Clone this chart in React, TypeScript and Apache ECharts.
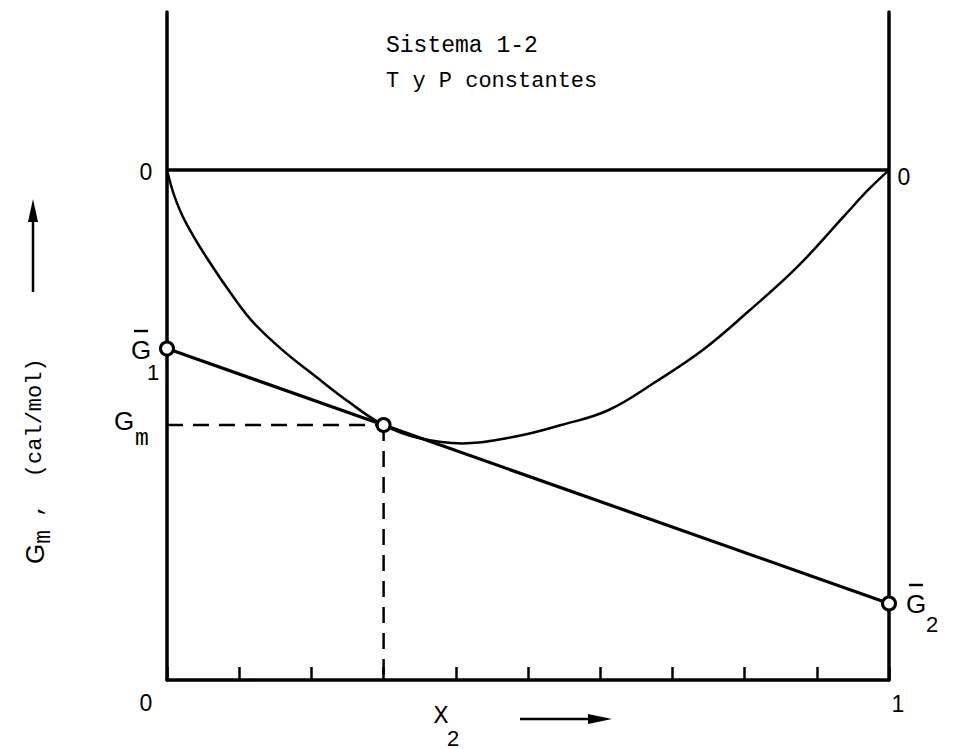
import { useEffect, useRef } from "react";
import * as echarts from "echarts";

// Molar Gibbs energy of mixing curve, G_m vs x2 (arbitrary units, 0 at pure components)
const x2Curve = [0, 0.01, 0.025, 0.055, 0.095, 0.121, 0.16, 0.206, 0.252, 0.3, 0.35, 0.409, 0.481, 0.546, 0.611, 0.677, 0.742, 0.807, 0.873, 0.938, 0.971, 1];
const gmCurve = [0, -0.05, -0.1, -0.172, -0.255, -0.301, -0.353, -0.405, -0.455, -0.5, -0.526, -0.536, -0.523, -0.5, -0.471, -0.415, -0.353, -0.275, -0.19, -0.09, -0.039, 0];

// Tangent at the chosen composition: intercepts give the partial molar quantities
const tangentX = [0, 1];
const tangentG = [-0.35, -0.85];

// Marked points: G1 bar, G_m at x2, G2 bar
const pointX = [0, 0.3, 1];
const pointG = [-0.35, -0.5, -0.85];

const xMin = 0;
const xMax = 1;
const xStep = 0.1;
const yMin = -1;
const yMax = 0.31;

const MONO = "'Liberation Mono', 'DejaVu Sans Mono', monospace";
const SANS = "'Liberation Sans', Arial, sans-serif";

export default function App() {
  const ref = useRef<HTMLDivElement>(null);

  useEffect(() => {
    if (!ref.current) return;
    const chart = echarts.init(ref.current, null, { renderer: "svg" });
    const black = "#000";

    const axisLine = { show: true, onZero: false, lineStyle: { color: black, width: 3.5 } };

    const curveData = x2Curve.map((x, i) => [x, gmCurve[i]]);
    const tangentData = tangentX.map((x, i) => [x, tangentG[i]]);
    const pointData = pointX.map((x, i) => [x, pointG[i]]);
    const gmX = pointX[1];
    const gmY = pointG[1];

    const txt = (x: number, y: number, text: string, size: number, family: string, align = "center") => ({
      type: "text",
      x,
      y,
      silent: true,
      style: {
        text,
        fill: black,
        fontSize: size,
        fontFamily: family,
        align,
        verticalAlign: "middle",
      },
    });

    const bar = (x1: number, x2: number, y: number) => ({
      type: "line",
      silent: true,
      shape: { x1, y1: y, x2, y2: y },
      style: { stroke: black, lineWidth: 2.4 },
    });

    const option: any = {
      animation: false,
      backgroundColor: "#fff",
      grid: { left: 167, right: 76, top: 12, bottom: 69 },
      xAxis: {
        type: "value",
        min: xMin,
        max: xMax,
        interval: xStep,
        axisLine,
        axisTick: { show: true, inside: true, length: 13, lineStyle: { color: black, width: 2.5 } },
        axisLabel: { show: false },
        splitLine: { show: false },
      },
      yAxis: [
        {
          type: "value",
          min: yMin,
          max: yMax,
          position: "left",
          axisLine,
          axisTick: { show: false },
          axisLabel: { show: false },
          splitLine: { show: false },
        },
        {
          type: "value",
          min: yMin,
          max: yMax,
          position: "right",
          axisLine,
          axisTick: { show: false },
          axisLabel: { show: false },
          splitLine: { show: false },
        },
      ],
      series: [
        {
          name: "cero",
          type: "line",
          data: [[xMin, 0], [xMax, 0]],
          symbol: "none",
          lineStyle: { color: black, width: 3.5 },
          z: 2,
        },
        {
          name: "Gm",
          type: "line",
          data: curveData,
          smooth: 0.4,
          symbol: "none",
          lineStyle: { color: black, width: 2.5 },
          z: 3,
        },
        {
          name: "tangente",
          type: "line",
          data: tangentData,
          symbol: "none",
          lineStyle: { color: black, width: 3.2 },
          z: 3,
        },
        {
          name: "guia-h",
          type: "line",
          data: [[xMin, gmY], [gmX, gmY]],
          symbol: "none",
          lineStyle: { color: black, width: 2.5, type: [16, 10] },
          z: 2,
        },
        {
          name: "guia-v",
          type: "line",
          data: [[gmX, gmY], [gmX, yMin]],
          symbol: "none",
          lineStyle: { color: black, width: 2.5, type: [16, 10] },
          z: 2,
        },
        {
          name: "puntos",
          type: "scatter",
          data: pointData,
          symbol: "circle",
          symbolSize: 13,
          itemStyle: { color: "#fff", borderColor: black, borderWidth: 3, opacity: 1 },
          z: 5,
        },
      ],
      graphic: [
        // title block
        txt(386, 46, "Sistema 1-2", 23, MONO, "left"),
        txt(386, 81, "T y P constantes", 22, MONO, "left"),
        // zero labels on both ordinate axes
        txt(146, 172, "0", 23, SANS),
        txt(904, 177, "0", 23, SANS),
        // x2 end labels
        txt(146, 703, "0", 23, SANS),
        txt(898, 704, "1", 23, SANS),
        // G1 bar
        txt(141, 350, "G", 26, SANS),
        bar(134, 148, 331),
        txt(153, 372, "1", 22, SANS),
        // G_m
        txt(124, 421, "G", 26, SANS),
        txt(142, 439, "m", 23, MONO),
        // G2 bar
        txt(916, 604, "G", 26, SANS),
        bar(909, 923, 585),
        txt(932, 624, "2", 22, SANS),
        // x2 axis title with arrow
        txt(441, 716, "X", 25, MONO),
        txt(453, 738, "2", 22, SANS),
        { type: "line", silent: true, shape: { x1: 520, y1: 719, x2: 596, y2: 719 }, style: { stroke: black, lineWidth: 2.5 } },
        { type: "polygon", silent: true, shape: { points: [[588, 714], [612, 719], [588, 724]] }, style: { fill: black } },
        // ordinate title, rotated, with arrow
        {
          type: "text",
          x: 35,
          y: 564,
          rotation: Math.PI / 2,
          silent: true,
          style: {
            text: "{g|G}{s|m}{t| ,  (cal/mol)}",
            fill: black,
            align: "left",
            verticalAlign: "middle",
            rich: {
              g: { fontSize: 26, fontFamily: SANS, fill: black },
              s: { fontSize: 23, fontFamily: MONO, fill: black, padding: [18, 0, 0, 0] },
              t: { fontSize: 22, fontFamily: MONO, fill: black },
            },
          },
        },
        { type: "line", silent: true, shape: { x1: 33, y1: 292, x2: 33, y2: 212 }, style: { stroke: black, lineWidth: 2.5 } },
        { type: "polygon", silent: true, shape: { points: [[28, 222], [33, 199], [38, 222]] }, style: { fill: black } },
      ],
    };

    chart.setOption(option);
    return () => chart.dispose();
  }, []);

  return (
    <div
      ref={ref}
      style={{ position: "fixed", left: 0, top: 0, width: 965, height: 749, background: "#fff" }}
    />
  );
}
